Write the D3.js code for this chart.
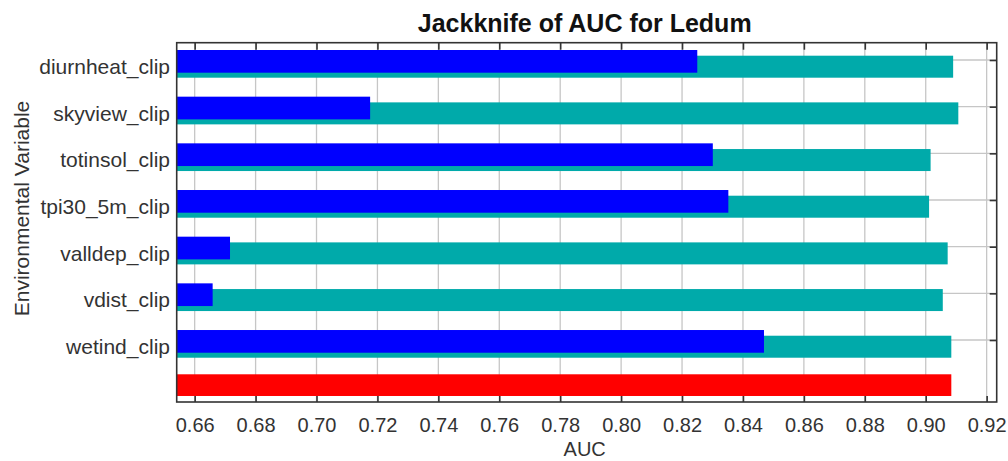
<!DOCTYPE html>
<html>
<head>
<meta charset="utf-8">
<script src="https://cdn.jsdelivr.net/npm/d3@7"></script>
<style>
  html, body { margin: 0; padding: 0; background: #fff; }
  svg { display: block; font-family: "Liberation Sans", Arial, sans-serif; }
</style>
</head>
<body>
<svg id="chart" width="1008" height="461"></svg>
<script>
// Jackknife test of variable importance (AUC)
const variables = ["diurnheat_clip", "skyview_clip", "totinsol_clip", "tpi30_5m_clip",
                   "valldep_clip", "vdist_clip", "wetind_clip"];
const withoutVariable = [0.9090, 0.9107, 0.9016, 0.9011, 0.9072, 0.9056, 0.9084];
const withOnlyVariable = [0.8250, 0.7176, 0.8301, 0.8352, 0.6716, 0.6659, 0.8469];
const withAllVariables = 0.9084;
const xTicks = [0.66, 0.68, 0.70, 0.72, 0.74, 0.76, 0.78, 0.80, 0.82, 0.84, 0.86, 0.88, 0.90, 0.92];

const svg = d3.select("#chart");
const plot = { left: 176.7, right: 996.7, top: 42.7, bottom: 402 };
const rowStep = 46.67;

const x = d3.scaleLinear().domain([0.6541, 0.9233]).range([plot.left, plot.right]);
const rows = variables.concat(["all"]);
const y = d3.scalePoint().domain(rows).range([60, 60 + rowStep * (rows.length - 1)]);

const gridColor = "#c6c6c6";

// vertical gridlines
svg.append("g").selectAll("line").data(xTicks).join("line")
  .attr("x1", d => x(d)).attr("x2", d => x(d))
  .attr("y1", plot.top).attr("y2", plot.bottom)
  .attr("stroke", gridColor).attr("stroke-width", 1.3);

// horizontal gridlines
svg.append("g").selectAll("line").data(variables).join("line")
  .attr("x1", plot.left).attr("x2", plot.right)
  .attr("y1", d => y(d)).attr("y2", d => y(d))
  .attr("stroke", gridColor).attr("stroke-width", 1.3);

const x0 = x.range()[0];

// training AUC without each variable
svg.append("g").selectAll("rect").data(variables).join("rect")
  .attr("x", x0)
  .attr("y", d => y(d) - 4.3)
  .attr("width", (d, i) => x(withoutVariable[i]) - x0)
  .attr("height", 22)
  .attr("fill", "#00aaaa");

// training AUC with only each variable
svg.append("g").selectAll("rect").data(variables).join("rect")
  .attr("x", x0)
  .attr("y", d => y(d) - 10)
  .attr("width", (d, i) => x(withOnlyVariable[i]) - x0)
  .attr("height", 22.7)
  .attr("fill", "#0000ff");

// training AUC with all variables
svg.append("rect")
  .attr("x", x0)
  .attr("y", y("all") - 12.4)
  .attr("width", x(withAllVariables) - x0)
  .attr("height", 21.7)
  .attr("fill", "#ff0000");

// plot border
svg.append("rect")
  .attr("x", plot.left).attr("y", plot.top)
  .attr("width", plot.right - plot.left).attr("height", plot.bottom - plot.top)
  .attr("fill", "none").attr("stroke", "#333").attr("stroke-width", 1.6);

// bottom axis
const bottomAxis = d3.axisBottom(x).tickValues(xTicks).tickFormat(d3.format(".2f"))
  .tickSizeInner(-6).tickSizeOuter(0).tickPadding(16);
const gb = svg.append("g").attr("transform", `translate(0,${plot.bottom})`).call(bottomAxis);
gb.select(".domain").remove();
gb.selectAll(".tick line").attr("stroke", "#333").attr("stroke-width", 1.6);
gb.selectAll(".tick text").attr("font-size", 20).attr("fill", "#333")
  .attr("font-family", "'Liberation Sans', Arial, sans-serif");

// top tick marks
const topAxis = d3.axisTop(x).tickValues(xTicks).tickFormat("").tickSizeInner(-7).tickSizeOuter(0);
const gt = svg.append("g").attr("transform", `translate(0,${plot.top})`).call(topAxis);
gt.select(".domain").remove();
gt.selectAll(".tick line").attr("stroke", "#333").attr("stroke-width", 1.6);

// right tick marks
const rightAxis = d3.axisRight(y).tickValues(variables).tickFormat("").tickSizeInner(-7).tickSizeOuter(0);
const gr = svg.append("g").attr("transform", `translate(${plot.right},0)`).call(rightAxis);
gr.select(".domain").remove();
gr.selectAll(".tick line").attr("stroke", "#333").attr("stroke-width", 1.6);

// category labels
svg.append("g").selectAll("text").data(variables).join("text")
  .attr("x", 170)
  .attr("y", d => y(d) + 6.5)
  .attr("dy", "0.35em")
  .attr("text-anchor", "end")
  .attr("font-size", 21)
  .attr("fill", "#333")
  .text(d => d);

// title
svg.append("text")
  .attr("x", (plot.left + plot.right) / 2 - 2)
  .attr("y", 31.5)
  .attr("text-anchor", "middle")
  .attr("font-size", 25)
  .attr("font-weight", "bold")
  .attr("fill", "#111")
  .text("Jackknife of AUC for Ledum");

// axis titles
svg.append("text")
  .attr("x", (plot.left + plot.right) / 2 - 2)
  .attr("y", 456)
  .attr("text-anchor", "middle")
  .attr("font-size", 20)
  .attr("fill", "#333")
  .text("AUC");

svg.append("text")
  .attr("transform", "translate(28.5,208.5) rotate(-90)")
  .attr("text-anchor", "middle")
  .attr("font-size", 21)
  .attr("fill", "#333")
  .text("Environmental Variable");
</script>
</body>
</html>
